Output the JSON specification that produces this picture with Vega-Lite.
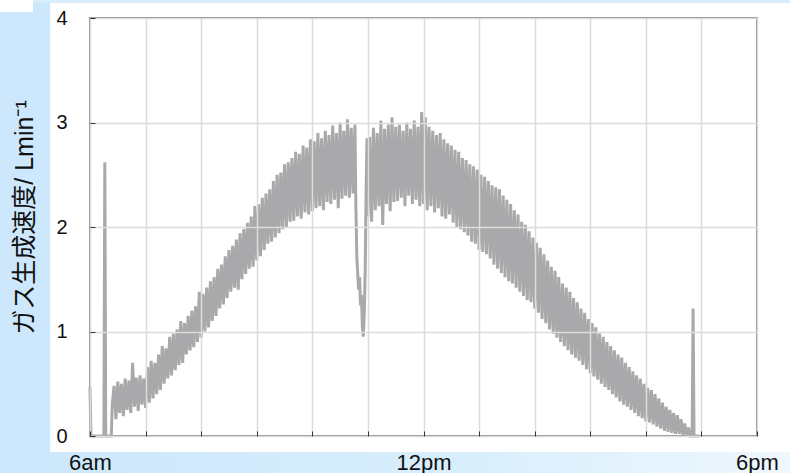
{
  "$schema": "https://vega.github.io/schema/vega-lite/v6.json",
  "autosize": "none",
  "width": 667,
  "height": 418,
  "padding": {"left": 90, "top": 18, "right": 33, "bottom": 37},
  "background": "white",
  "config": {
    "view": {"fill": "white", "stroke": "#6b6b6b", "strokeWidth": 1.5},
    "font": "Liberation Sans, Noto Sans CJK JP, sans-serif",
    "axis": {
      "domain": false,
      "grid": true,
      "gridColor": "#dcdcdc",
      "gridWidth": 1.5,
      "tickColor": "#333333",
      "tickSize": -5,
      "tickWidth": 1,
      "labelColor": "#111111",
      "labelFontSize": 20,
      "labelFlush": false,
      "labelOverlap": false,
      "zindex": 1
    }
  },
  "data": {
    "values": [
      {"m": 360, "v": 0.47}, {"m": 361, "v": 0}, {"m": 375, "v": 0}, {"m": 376, "v": 2.62}, {"m": 377, "v": 0}, {"m": 383, "v": 0},
      {"m": 384, "v": 0.30}, {"m": 386, "v": 0.48}, {"m": 388, "v": 0.16}, {"m": 390, "v": 0.52}, {"m": 392, "v": 0.22},
      {"m": 394, "v": 0.50}, {"m": 396, "v": 0.19}, {"m": 398, "v": 0.55}, {"m": 400, "v": 0.25}, {"m": 402, "v": 0.53},
      {"m": 404, "v": 0.22}, {"m": 406, "v": 0.70}, {"m": 408, "v": 0.28}, {"m": 410, "v": 0.56}, {"m": 412, "v": 0.24},
      {"m": 414, "v": 0.58}, {"m": 416, "v": 0.30}, {"m": 418, "v": 0.55}, {"m": 420, "v": 0.27},
      {"m": 422, "v": 0.66}, {"m": 424, "v": 0.32}, {"m": 426, "v": 0.72}, {"m": 428, "v": 0.36}, {"m": 430, "v": 0.70},
      {"m": 432, "v": 0.40}, {"m": 434, "v": 0.78}, {"m": 436, "v": 0.44}, {"m": 438, "v": 0.86}, {"m": 440, "v": 0.50},
      {"m": 442, "v": 0.84}, {"m": 444, "v": 0.55}, {"m": 446, "v": 0.95}, {"m": 448, "v": 0.58}, {"m": 450, "v": 0.98},
      {"m": 452, "v": 0.63}, {"m": 454, "v": 1.02}, {"m": 456, "v": 0.68}, {"m": 458, "v": 1.10}, {"m": 460, "v": 0.70},
      {"m": 462, "v": 1.08}, {"m": 464, "v": 0.78}, {"m": 466, "v": 1.15}, {"m": 468, "v": 0.82}, {"m": 470, "v": 1.20},
      {"m": 472, "v": 0.85}, {"m": 474, "v": 1.24}, {"m": 476, "v": 0.90}, {"m": 478, "v": 1.38}, {"m": 480, "v": 0.94},
      {"m": 482, "v": 1.36}, {"m": 484, "v": 1.00}, {"m": 486, "v": 1.42}, {"m": 488, "v": 1.04}, {"m": 490, "v": 1.48},
      {"m": 492, "v": 1.10}, {"m": 494, "v": 1.52}, {"m": 496, "v": 1.15}, {"m": 498, "v": 1.60}, {"m": 500, "v": 1.22},
      {"m": 502, "v": 1.64}, {"m": 504, "v": 1.26}, {"m": 506, "v": 1.72}, {"m": 508, "v": 1.32}, {"m": 510, "v": 1.78},
      {"m": 512, "v": 1.38}, {"m": 514, "v": 1.82}, {"m": 516, "v": 1.42}, {"m": 518, "v": 1.88}, {"m": 520, "v": 1.40},
      {"m": 522, "v": 1.94}, {"m": 524, "v": 1.50}, {"m": 526, "v": 1.98}, {"m": 528, "v": 1.55}, {"m": 530, "v": 2.04},
      {"m": 532, "v": 1.60}, {"m": 534, "v": 2.10}, {"m": 536, "v": 1.62}, {"m": 538, "v": 2.20}, {"m": 540, "v": 1.68},
      {"m": 542, "v": 2.22}, {"m": 544, "v": 1.72}, {"m": 546, "v": 2.28}, {"m": 548, "v": 1.78}, {"m": 550, "v": 2.32},
      {"m": 552, "v": 1.84}, {"m": 554, "v": 2.36}, {"m": 556, "v": 1.86}, {"m": 558, "v": 2.44}, {"m": 560, "v": 1.90},
      {"m": 562, "v": 2.50}, {"m": 564, "v": 1.94}, {"m": 566, "v": 2.52}, {"m": 568, "v": 1.98}, {"m": 570, "v": 2.60},
      {"m": 572, "v": 2.00}, {"m": 574, "v": 2.62}, {"m": 576, "v": 2.05}, {"m": 578, "v": 2.66}, {"m": 580, "v": 2.06},
      {"m": 582, "v": 2.72}, {"m": 584, "v": 2.10}, {"m": 586, "v": 2.70}, {"m": 588, "v": 2.08}, {"m": 590, "v": 2.78},
      {"m": 592, "v": 2.14}, {"m": 594, "v": 2.76}, {"m": 596, "v": 2.12}, {"m": 598, "v": 2.84}, {"m": 600, "v": 2.15},
      {"m": 602, "v": 2.82}, {"m": 604, "v": 2.18}, {"m": 606, "v": 2.90}, {"m": 608, "v": 2.20}, {"m": 610, "v": 2.85},
      {"m": 612, "v": 2.16}, {"m": 614, "v": 2.92}, {"m": 616, "v": 2.24}, {"m": 618, "v": 2.88}, {"m": 620, "v": 2.22},
      {"m": 622, "v": 2.97}, {"m": 624, "v": 2.26}, {"m": 626, "v": 2.90}, {"m": 628, "v": 2.18}, {"m": 630, "v": 3.00},
      {"m": 632, "v": 2.27}, {"m": 634, "v": 2.92}, {"m": 636, "v": 2.30}, {"m": 638, "v": 3.03}, {"m": 640, "v": 2.28},
      {"m": 642, "v": 2.95}, {"m": 644, "v": 2.32}, {"m": 646, "v": 2.98},
      {"m": 647, "v": 2.20}, {"m": 648, "v": 1.72}, {"m": 649, "v": 1.55}, {"m": 650, "v": 1.40}, {"m": 651, "v": 1.52},
      {"m": 652, "v": 1.25}, {"m": 653, "v": 1.35}, {"m": 654, "v": 1.05}, {"m": 655, "v": 0.95}, {"m": 656, "v": 1.15},
      {"m": 657, "v": 1.55}, {"m": 658, "v": 2.30}, {"m": 659, "v": 2.85}, {"m": 660, "v": 2.10},
      {"m": 662, "v": 2.86}, {"m": 664, "v": 2.05}, {"m": 666, "v": 2.95}, {"m": 668, "v": 2.16}, {"m": 670, "v": 2.90},
      {"m": 672, "v": 2.20}, {"m": 674, "v": 3.02}, {"m": 676, "v": 2.02}, {"m": 678, "v": 2.94}, {"m": 680, "v": 2.22},
      {"m": 682, "v": 2.98}, {"m": 684, "v": 2.15}, {"m": 686, "v": 3.05}, {"m": 688, "v": 2.24}, {"m": 690, "v": 2.96},
      {"m": 692, "v": 2.25}, {"m": 694, "v": 2.98}, {"m": 696, "v": 2.28}, {"m": 698, "v": 2.92}, {"m": 700, "v": 2.20},
      {"m": 702, "v": 3.00}, {"m": 704, "v": 2.30}, {"m": 706, "v": 2.94}, {"m": 708, "v": 2.22}, {"m": 710, "v": 3.02},
      {"m": 712, "v": 2.26}, {"m": 714, "v": 2.96}, {"m": 716, "v": 2.20}, {"m": 718, "v": 3.10}, {"m": 720, "v": 2.22},
      {"m": 722, "v": 3.05}, {"m": 724, "v": 2.16}, {"m": 726, "v": 2.96}, {"m": 728, "v": 2.20}, {"m": 730, "v": 2.92},
      {"m": 732, "v": 2.14}, {"m": 734, "v": 2.88}, {"m": 736, "v": 2.18}, {"m": 738, "v": 2.90}, {"m": 740, "v": 2.10},
      {"m": 742, "v": 2.84}, {"m": 744, "v": 2.08}, {"m": 746, "v": 2.80}, {"m": 748, "v": 2.12}, {"m": 750, "v": 2.78},
      {"m": 752, "v": 2.04}, {"m": 754, "v": 2.74}, {"m": 756, "v": 2.00}, {"m": 758, "v": 2.72}, {"m": 760, "v": 1.98},
      {"m": 762, "v": 2.66}, {"m": 764, "v": 1.95}, {"m": 766, "v": 2.64}, {"m": 768, "v": 1.92}, {"m": 770, "v": 2.60},
      {"m": 772, "v": 1.86}, {"m": 774, "v": 2.58}, {"m": 776, "v": 1.84}, {"m": 778, "v": 2.55}, {"m": 780, "v": 1.78},
      {"m": 782, "v": 2.50}, {"m": 784, "v": 1.76}, {"m": 786, "v": 2.48}, {"m": 788, "v": 1.74}, {"m": 790, "v": 2.44},
      {"m": 792, "v": 1.70}, {"m": 794, "v": 2.40}, {"m": 796, "v": 1.64}, {"m": 798, "v": 2.38}, {"m": 800, "v": 1.60},
      {"m": 802, "v": 2.36}, {"m": 804, "v": 1.56}, {"m": 806, "v": 2.30}, {"m": 808, "v": 1.52}, {"m": 810, "v": 2.26},
      {"m": 812, "v": 1.48}, {"m": 814, "v": 2.22}, {"m": 816, "v": 1.46}, {"m": 818, "v": 2.16}, {"m": 820, "v": 1.42},
      {"m": 822, "v": 2.12}, {"m": 824, "v": 1.38}, {"m": 826, "v": 2.05}, {"m": 828, "v": 1.34}, {"m": 830, "v": 2.02},
      {"m": 832, "v": 1.30}, {"m": 834, "v": 1.96}, {"m": 836, "v": 1.28}, {"m": 838, "v": 1.90}, {"m": 840, "v": 1.22},
      {"m": 842, "v": 1.85}, {"m": 844, "v": 1.18}, {"m": 846, "v": 1.80}, {"m": 848, "v": 1.12}, {"m": 850, "v": 1.74},
      {"m": 852, "v": 1.08}, {"m": 854, "v": 1.68}, {"m": 856, "v": 1.02}, {"m": 858, "v": 1.62}, {"m": 860, "v": 0.98},
      {"m": 862, "v": 1.58}, {"m": 864, "v": 0.94}, {"m": 866, "v": 1.52}, {"m": 868, "v": 0.90}, {"m": 870, "v": 1.46},
      {"m": 872, "v": 0.86}, {"m": 874, "v": 1.42}, {"m": 876, "v": 0.82}, {"m": 878, "v": 1.38}, {"m": 880, "v": 0.78},
      {"m": 882, "v": 1.32}, {"m": 884, "v": 0.75}, {"m": 886, "v": 1.28}, {"m": 888, "v": 0.72}, {"m": 890, "v": 1.22},
      {"m": 892, "v": 0.68}, {"m": 894, "v": 1.18}, {"m": 896, "v": 0.64}, {"m": 898, "v": 1.12}, {"m": 900, "v": 0.60},
      {"m": 902, "v": 1.08}, {"m": 904, "v": 0.57}, {"m": 906, "v": 1.04}, {"m": 908, "v": 0.54}, {"m": 910, "v": 0.98},
      {"m": 912, "v": 0.50}, {"m": 914, "v": 0.95}, {"m": 916, "v": 0.47}, {"m": 918, "v": 0.90}, {"m": 920, "v": 0.44},
      {"m": 922, "v": 0.86}, {"m": 924, "v": 0.40}, {"m": 926, "v": 0.82}, {"m": 928, "v": 0.37}, {"m": 930, "v": 0.78},
      {"m": 932, "v": 0.33}, {"m": 934, "v": 0.75}, {"m": 936, "v": 0.30}, {"m": 938, "v": 0.70}, {"m": 940, "v": 0.28},
      {"m": 942, "v": 0.66}, {"m": 944, "v": 0.25}, {"m": 946, "v": 0.62}, {"m": 948, "v": 0.22}, {"m": 950, "v": 0.58},
      {"m": 952, "v": 0.19}, {"m": 954, "v": 0.55}, {"m": 956, "v": 0.17}, {"m": 958, "v": 0.50}, {"m": 960, "v": 0.14},
      {"m": 962, "v": 0.46}, {"m": 964, "v": 0.13}, {"m": 966, "v": 0.44}, {"m": 968, "v": 0.11}, {"m": 970, "v": 0.40},
      {"m": 972, "v": 0.09}, {"m": 974, "v": 0.36}, {"m": 976, "v": 0.07}, {"m": 978, "v": 0.32}, {"m": 980, "v": 0.05},
      {"m": 982, "v": 0.28}, {"m": 984, "v": 0.04}, {"m": 986, "v": 0.25}, {"m": 988, "v": 0.03}, {"m": 990, "v": 0.22},
      {"m": 992, "v": 0.02}, {"m": 994, "v": 0.20}, {"m": 996, "v": 0.02}, {"m": 998, "v": 0.16}, {"m": 1000, "v": 0.01},
      {"m": 1002, "v": 0.12}, {"m": 1004, "v": 0.00}, {"m": 1006, "v": 0.08}, {"m": 1008, "v": 0.00}, {"m": 1010, "v": 0.00},
      {"m": 1011, "v": 1.22}, {"m": 1012, "v": 0.00}, {"m": 1017, "v": 0.00}
    ]
  },
  "layer": [
    {
      "data": {"values": [{}]},
      "mark": {"type": "rect", "fill": "#cde8fc", "zindex": 0},
      "encoding": {
        "x": {"datum": 262, "type": "quantitative"},
        "x2": {"datum": 317},
        "y": {"datum": 4.2, "type": "quantitative"},
        "y2": {"datum": -0.36}
      }
    },
    {
      "data": {"values": [{}]},
      "mark": {"type": "rect", "fill": "white", "zindex": 0},
      "encoding": {
        "x": {"datum": 262, "type": "quantitative"},
        "x2": {"datum": 298.5},
        "y": {"datum": 4.2, "type": "quantitative"},
        "y2": {"datum": 4.057}
      }
    },
    {
      "data": {"values": [{}]},
      "mark": {
        "type": "rect",
        "zindex": 0,
        "fill": {
          "gradient": "linear", "x1": 0, "y1": 0, "x2": 1, "y2": 0,
          "stops": [
            {"offset": 0, "color": "#cde8fc"},
            {"offset": 0.55, "color": "#d8eefc"},
            {"offset": 1, "color": "#eef7fe"}
          ]
        }
      },
      "encoding": {
        "x": {"datum": 316, "type": "quantitative"},
        "x2": {"datum": 1116},
        "y": {"datum": -0.153, "type": "quantitative"},
        "y2": {"datum": -0.36}
      }
    },
    {
      "data": {"values": [{}]},
      "mark": {"type": "rect", "fill": "#d9eefc", "zindex": 0},
      "encoding": {
        "x": {"datum": 298.5, "type": "quantitative"},
        "x2": {"datum": 1116},
        "y": {"datum": 4.2, "type": "quantitative"},
        "y2": {"datum": 4.143}
      }
    },
    {
      "mark": {"type": "line", "color": "#a9a8aa", "strokeWidth": 3, "zindex": 2, "strokeJoin": "miter"},
      "encoding": {
        "x": {
          "field": "m",
          "type": "quantitative",
          "scale": {"domain": [360, 1080], "nice": false, "zero": false},
          "axis": {
            "values": [360, 420, 480, 540, 600, 660, 720, 780, 840, 900, 960, 1020, 1080],
            "labelExpr": "datum.value == 360 ? '6am' : datum.value == 720 ? '12pm' : datum.value == 1080 ? '6pm' : ''",
            "labelPadding": 21,
            "labelFontSize": 22,
            "zindex": 1,
            "title": null
          }
        },
        "y": {
          "field": "v",
          "type": "quantitative",
          "scale": {"domain": [0, 4], "nice": false},
          "axis": {
            "values": [0, 1, 2, 3, 4],
            "format": "d",
            "labelPadding": 28,
            "zindex": 1,
            "title": "ガス生成速度/ Lmin⁻¹",
            "titleFontSize": 25,
            "titleFontWeight": "normal",
            "titleColor": "#111111",
            "titlePadding": 18,
            "titleY": 199
          }
        }
      }
    }
  ]
}
